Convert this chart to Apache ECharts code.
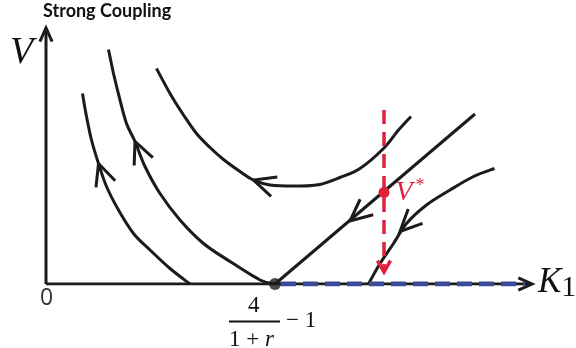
<!DOCTYPE html>
<html><head><meta charset="utf-8">
<script src="https://cdn.jsdelivr.net/npm/echarts@6/dist/echarts.min.js"></script>
<style>html,body{margin:0;padding:0;background:#fff}#c{width:576px;height:348px}</style>
</head><body><div id="c"></div>
<script>
// Phase-plane trajectories in (K1, V) units
const curve1 = [[7.3,38.1],[8.1,33.5],[9.1,28.8],[10.5,24.1],[12.1,19.5],[14.5,14.8],[17.5,10.1],[20.8,6.8],[24.8,3.1],[28.8,0]];
const curve2 = [[12.5,46.9],[13.5,42.1],[14.8,36.8],[16.1,32.1],[17.8,28.5],[19.8,23.5],[22.8,18.1],[26.8,12.8],[31.5,8.1],[36.8,4.5],[42.8,0.8],[45.8,0]];
const curve3 = [[22.1,43.1],[24.8,38.1],[27.5,33.8],[30.1,30.1],[32.8,27.3],[35.5,24.9],[38.8,22.5],[41.5,20.8],[44.8,19.8],[50.8,19.6],[54.8,19.9],[58.8,21.3],[62.8,23.1],[67.5,27.1],[70.5,30.8],[73,33.5]];
const separatrix = [[45.8,0],[85.8,34]];
const curve5 = [[89.7,23.1],[85.5,21.5],[80.8,18.8],[76.1,15.8],[72.1,12.1],[69.5,8.1],[66.8,4.1],[64.5,0]];
// direction arrows: [K1, V, direction angle (deg)]
const flowArrows = [[10.5,24.1,109],[17.8,28.5,113],[41.5,20.8,162],[60.8,12.6,220],[70.8,10.5,225]];
// axes
const kAxis = [[0,0],[97.2,0]];
const vAxis = [[0,0],[0,51.2]];
const axisArrows = [[97.2,0,0],[0,51.2,90]];
// critical point and stable half-line
const criticalPoint = [[45.8,0]];
const stableLine = [[47,0],[95.8,0]];
// V* and its vertical path
const vStar = [[67.6,18.3]];
const vStarPath = [[67.6,34.8],[67.6,2.6]];
const vStarArrow = [[67.6,2.4,270]];

const BLACK = '#1b1b1b', RED = '#e01f3d', BLUE = '#3b4b99';

function chevron(color, L, half, lw){
  return function(params, api){
    const p = api.coord([api.value(0), api.value(1)]);
    const a = api.value(2)*Math.PI/180;
    const h = half*Math.PI/180;
    const b1 = a + Math.PI + h, b2 = a + Math.PI - h;
    return {type:'polyline', shape:{points:[[p[0]+L*Math.cos(b1), p[1]-L*Math.sin(b1)], p, [p[0]+L*Math.cos(b2), p[1]-L*Math.sin(b2)]]},
      style:{stroke:color, lineWidth:lw, fill:null, lineJoin:'miter'}};
  };
}
// smooth trajectory through the data points (Catmull-Rom through api.coord)
function spline(curve, color, lw){
  return {type:'custom', data:[curve[0]], silent:true, clip:false, z:2,
    renderItem:function(params, api){
      const P = curve.map(p => api.coord(p));
      const n = P.length;
      let d = 'M' + P[0][0] + ' ' + P[0][1];
      for (let i = 0; i < n-1; i++){
        const p0 = P[Math.max(i-1,0)], p1 = P[i], p2 = P[i+1], p3 = P[Math.min(i+2,n-1)];
        const c1 = [p1[0]+(p2[0]-p0[0])/6, p1[1]+(p2[1]-p0[1])/6];
        const c2 = [p2[0]-(p3[0]-p1[0])/6, p2[1]-(p3[1]-p1[1])/6];
        d += ' C' + c1[0] + ' ' + c1[1] + ' ' + c2[0] + ' ' + c2[1] + ' ' + p2[0] + ' ' + p2[1];
      }
      return {type:'path', shape:{pathData:d},
        style:{stroke:color, lineWidth:lw, fill:null}};
    }};
}
function line(data, color, width, extra){
  return Object.assign({type:'line', data, showSymbol:false, symbol:'none', silent:true, smooth:false,
    lineStyle:{color, width, cap:'butt'}, z:2}, extra||{});
}

const chart = echarts.init(document.getElementById('c'));
chart.setOption({
  animation:false,
  backgroundColor:'#fff',
  grid:{left:46, right:30, top:24, bottom:64},
  xAxis:{type:'value', min:0, max:100, show:false},
  yAxis:{type:'value', min:0, max:52, show:false},
  series:[
    line(kAxis, BLACK, 3),
    line(vAxis, BLACK, 3),
    {type:'custom', data:axisArrows, renderItem:chevron(BLACK, 15, 24, 3), silent:true, z:3},
    spline(curve1, BLACK, 3),
    spline(curve2, BLACK, 3),
    spline(curve3, BLACK, 3),
    line(separatrix, BLACK, 3),
    spline(curve5, BLACK, 3),
    {type:'custom', data:flowArrows, renderItem:chevron(BLACK, 24, 25, 3), silent:true, z:3},
    line(stableLine, BLUE, 5, {z:4, lineStyle:{color:BLUE, width:5, type:[15,7], cap:'butt'}}),
    line(vStarPath, RED, 3.5, {z:5, lineStyle:{color:RED, width:3.5, type:[14,8], cap:'butt'}}),
    {type:'custom', data:vStarArrow, renderItem:chevron(RED, 13, 30, 3.5), silent:true, z:5},
    {type:'scatter', data:criticalPoint, symbolSize:12, itemStyle:{color:BLACK}, silent:true, z:6},
    {type:'scatter', data:vStar, symbolSize:11, itemStyle:{color:RED, opacity:1}, silent:true, z:6,
      label:{show:true, position:'right', distance:6, formatter:'{v|V}{s|*}',
        rich:{v:{fontFamily:'Liberation Serif', fontStyle:'italic', fontSize:28, color:RED},
              s:{fontFamily:'Liberation Serif', fontSize:18, color:RED, verticalAlign:'top', padding:[0,0,12,3]}}}}
  ],
  graphic:[
    {type:'text', left:43, top:2, style:{text:'Strong Coupling', fontFamily:'Lato', fontWeight:'bold', fontSize:18, fill:'#111'}},
    {type:'text', left:10, top:34, style:{text:'V', fontFamily:'Liberation Serif', fontStyle:'italic', fontSize:38, fill:'#111'}},
    {type:'text', left:538, top:265, style:{text:'{k|K}{o|1}', rich:{k:{fontFamily:'Liberation Serif', fontStyle:'italic', fontSize:35, fill:'#111'}, o:{fontFamily:'Liberation Serif', fontSize:30, fill:'#111', padding:[12,0,0,0]}}}},
    {type:'text', left:40, top:287, style:{text:'0', fontFamily:'Open Sans', fontSize:23, fill:'#333'}},
    {type:'text', left:248, top:294, style:{text:'4', fontFamily:'Liberation Serif', fontSize:23, fill:'#111'}},
    {type:'rect', shape:{x:229, y:320.5, width:51, height:2}, style:{fill:'#111'}},
    {type:'text', left:229, top:328, style:{text:'{n|1 + }{r|r}', rich:{n:{fontFamily:'Liberation Serif', fontSize:23, fill:'#111'}, r:{fontFamily:'Liberation Serif', fontStyle:'italic', fontSize:23, fill:'#111'}}}},
    {type:'text', left:286, top:309, style:{text:'− 1', fontFamily:'Liberation Serif', fontSize:23, fill:'#111'}}
  ]
});
</script></body></html>
